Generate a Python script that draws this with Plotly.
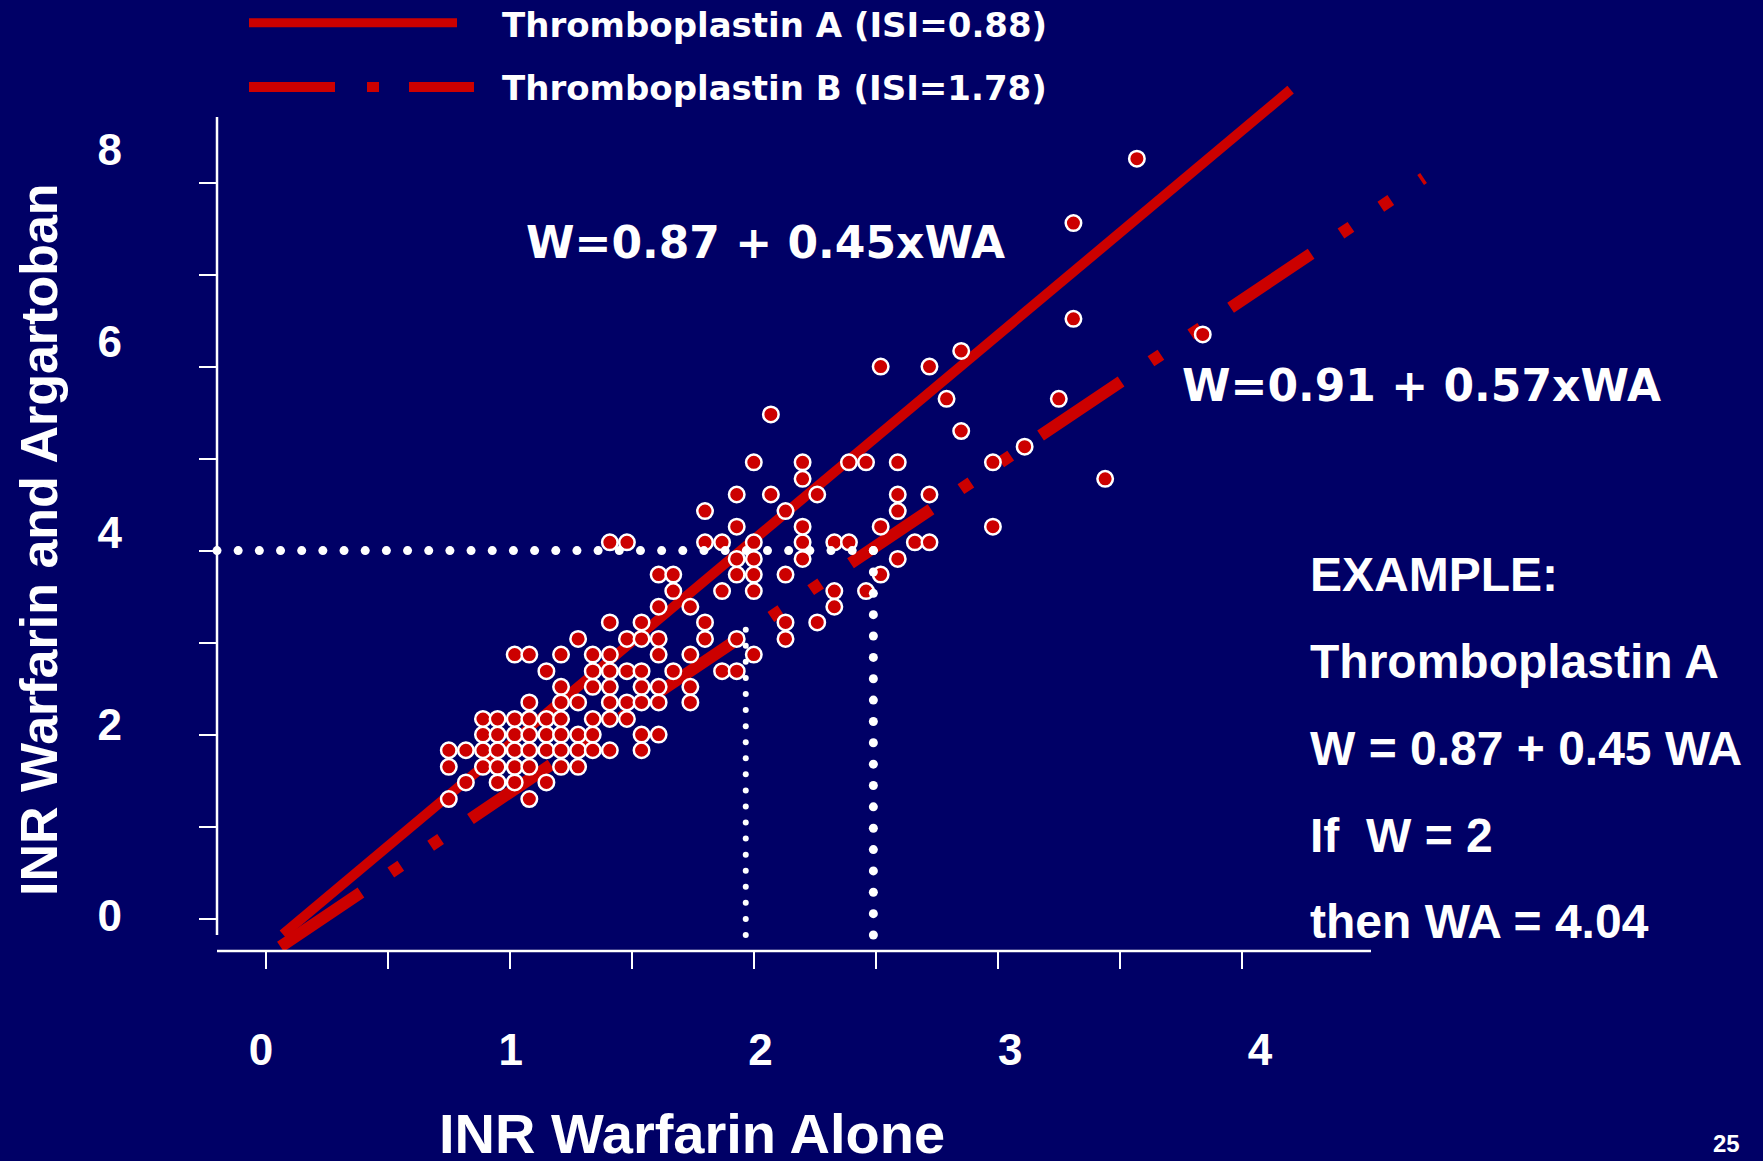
import numpy as np
import plotly.graph_objects as go

# ------------------------------------------------------------------ data
# INR with warfarin alone (x) and with warfarin + argatroban (y)
inr_warfarin_alone = [
    0.75, 1.08,
    0.82, 0.95, 1.02, 1.15,
    0.75, 0.89, 0.95, 1.02, 1.08, 1.21, 1.28,
    0.75, 0.82, 0.89, 0.95, 1.02, 1.08, 1.15, 1.21, 1.28, 1.34, 1.41, 1.54,
    0.89, 0.95, 1.02, 1.08, 1.15, 1.21, 1.28, 1.34, 1.54, 1.61,
    0.89, 0.95, 1.02, 1.08, 1.15, 1.21, 1.34, 1.41, 1.48,
    1.08, 1.21, 1.28, 1.41, 1.48, 1.54, 1.61, 1.74,
    1.21, 1.34, 1.41, 1.54, 1.61, 1.74,
    1.15, 1.34, 1.41, 1.48, 1.54, 1.67, 1.87, 1.93,
    1.02, 1.08, 1.21, 1.34, 1.41, 1.61, 1.74, 2.00,
    1.28, 1.48, 1.54, 1.61, 1.80, 1.93, 2.13,
    1.41, 1.54, 1.80, 2.13, 2.26,
    1.61, 1.74, 2.33,
    1.67, 1.87, 2.00, 2.33, 2.46,
    1.61, 1.67, 1.93, 2.00, 2.13, 2.52,
    1.93, 2.00, 2.20, 2.59,
    1.41, 1.48, 1.80, 1.87, 2.00, 2.20, 2.33, 2.39, 2.66, 2.72,
    1.93, 2.20, 2.52, 2.98,
    1.80, 2.13, 2.59,
    1.93, 2.07, 2.26, 2.59, 2.72,
    2.20, 3.44,
    2.00, 2.20, 2.39, 2.46, 2.59, 2.98,
    3.11,
    2.85,
    2.07,
    2.79, 3.25,
    2.52, 2.72,
    2.85,
    3.84,
    3.31,
    3.31,
    3.57,
]
inr_warfarin_argatroban = [
    1.30, 1.30,
    1.48, 1.48, 1.48, 1.48,
    1.65, 1.65, 1.65, 1.65, 1.65, 1.65, 1.65,
    1.83, 1.83, 1.83, 1.83, 1.83, 1.83, 1.83, 1.83, 1.83, 1.83, 1.83, 1.83,
    2.00, 2.00, 2.00, 2.00, 2.00, 2.00, 2.00, 2.00, 2.00, 2.00,
    2.17, 2.17, 2.17, 2.17, 2.17, 2.17, 2.17, 2.17, 2.17,
    2.35, 2.35, 2.35, 2.35, 2.35, 2.35, 2.35, 2.35,
    2.52, 2.52, 2.52, 2.52, 2.52, 2.52,
    2.69, 2.69, 2.69, 2.69, 2.69, 2.69, 2.69, 2.69,
    2.87, 2.87, 2.87, 2.87, 2.87, 2.87, 2.87, 2.87,
    3.04, 3.04, 3.04, 3.04, 3.04, 3.04, 3.04,
    3.22, 3.22, 3.22, 3.22, 3.22,
    3.39, 3.39, 3.39,
    3.56, 3.56, 3.56, 3.56, 3.56,
    3.74, 3.74, 3.74, 3.74, 3.74, 3.74,
    3.91, 3.91, 3.91, 3.91,
    4.09, 4.09, 4.09, 4.09, 4.09, 4.09, 4.09, 4.09, 4.09, 4.09,
    4.26, 4.26, 4.26, 4.26,
    4.43, 4.43, 4.43,
    4.61, 4.61, 4.61, 4.61, 4.61,
    4.78, 4.78,
    4.96, 4.96, 4.96, 4.96, 4.96, 4.96,
    5.13,
    5.30,
    5.48,
    5.65, 5.65,
    6.00, 6.00,
    6.17,
    6.35,
    6.52,
    7.56,
    8.26,
]
assert len(inr_warfarin_alone) == len(inr_warfarin_argatroban)

# regression lines (end points as drawn on the slide)
line_a_x = [0.07, 4.20]
line_a_y = [-0.17, 9.01]
line_b_x = [0.06, 4.745]
line_b_y = [-0.305, 8.05]

# axes
x_tick_vals = [0, 0.5, 1, 1.5, 2, 2.5, 3, 3.5, 4]
x_label_vals = [0, 1, 2, 3, 4]
x_label_text = ["0", "1", "2", "3", "4"]
y_tick_vals = [0, 1, 2, 3, 4, 5, 6, 7, 8]
y_label_vals = [0, 2, 4, 6, 8]
y_label_text = ["0", "2", "4", "6", "8"]

# worked example guides
example_wa = 4.0
example_w_a = 1.967
example_w_b = 2.49
example_bottom = -0.178
example_a_top = 3.14

legend_labels = ["Thromboplastin A (ISI=0.88)", "Thromboplastin B (ISI=1.78)"]
equation_a = "W=0.87 + 0.45xWA"
equation_b = "W=0.91 + 0.57xWA"
example_lines = ["EXAMPLE:", "Thromboplastin A", "W = 0.87 + 0.45 WA",
                 "If\u00a0 W = 2", "then WA = 4.04"]
x_title = "INR Warfarin Alone"
y_title = "INR Warfarin and Argartoban"
page_number = "25"

# ------------------------------------------------------------------ style / geometry
BG = "#000066"
RED = "#CC0000"
WHITE = "#FFFFFF"
ARIAL = "Arial, Liberation Sans, Helvetica, sans-serif"
VERDANA = "Verdana, DejaVu Sans, sans-serif"

W, H = 1763, 1161
ML, MR, MT, MB = 217, 326, 72, 210
PX_X, PX_Y = 244.0, 92.0
plot_w = W - ML - MR
plot_h = H - MT - MB
x_range = [-0.2, -0.2 + plot_w / PX_X]
y_range = [-0.352, -0.352 + plot_h / PX_Y]


def paper_x(px):
    return (px - ML) / plot_w


def paper_y(py):
    return (H - MB - py) / plot_h


# label axes (labels on the slide sit slightly off the tick marks)
def xl(px):
    return (px - 261.0) / 249.75


def yl(py):
    return (916.0 - py) / 95.75


x_label_range = [xl(ML), xl(W - MR)]
y_label_range = [yl(H - MB), yl(MT)]

# ------------------------------------------------------------------ traces
fig = go.Figure()

fig.add_trace(go.Scatter(x=line_a_x, y=line_a_y, mode="lines",
                         line=dict(color=RED, width=10), hoverinfo="skip"))
fig.add_trace(go.Scatter(x=line_b_x, y=line_b_y, mode="lines",
                         line=dict(color=RED, width=12,
                                   dash="97px,36px,12px,36px,12px,36px"),
                         hoverinfo="skip"))

fig.add_trace(go.Scatter(
    x=inr_warfarin_alone, y=inr_warfarin_argatroban, mode="markers",
    marker=dict(size=15.5, color=RED, line=dict(color=WHITE, width=2.5)),
))

# dotted guides of the worked example
hx = np.linspace(x_range[0], example_w_b, 32)
rv_y = np.linspace(example_wa, example_bottom, 19)
fig.add_trace(go.Scatter(
    x=list(hx) + [example_w_b] * len(rv_y),
    y=[example_wa] * len(hx) + list(rv_y),
    mode="markers", marker=dict(size=9, color=WHITE), hoverinfo="skip",
    cliponaxis=False))
lv_y = np.linspace(example_a_top, example_bottom, 20)
fig.add_trace(go.Scatter(
    x=[example_w_a] * len(lv_y), y=lv_y,
    mode="markers", marker=dict(size=6, color=WHITE), hoverinfo="skip"))

# empty trace to anchor the label axes
fig.add_trace(go.Scatter(x=[], y=[], xaxis="x2", yaxis="y3", hoverinfo="skip"))

# ------------------------------------------------------------------ layout
tick_font = dict(family=ARIAL, size=44, color=WHITE, weight="bold")

fig.update_layout(
    width=W, height=H, autosize=False,
    margin=dict(l=ML, r=MR, t=MT, b=MB, pad=0),
    paper_bgcolor=BG, plot_bgcolor=BG,
    showlegend=False,
    xaxis=dict(range=x_range, tickvals=x_tick_vals, ticks="outside", ticklen=17,
               tickwidth=2, tickcolor=WHITE, showticklabels=False,
               showgrid=False, zeroline=False, showline=False),
    yaxis=dict(range=y_range, tickvals=y_tick_vals, ticks="outside", ticklen=17,
               tickwidth=2, tickcolor=WHITE, showticklabels=False,
               showgrid=False, zeroline=False, showline=False),
    yaxis2=dict(range=y_range, overlaying="y", anchor="x", side="left",
                tickvals=y_tick_vals, ticks="inside", ticklen=17, tickwidth=2,
                tickcolor=WHITE, showticklabels=False, showgrid=False,
                zeroline=False, showline=False),
    xaxis2=dict(range=x_label_range, overlaying="x", anchor="y", side="bottom",
                tickvals=x_label_vals, ticktext=x_label_text, ticks="",
                tickfont=tick_font, ticklabelstandoff=69,
                showgrid=False, zeroline=False, showline=False),
    yaxis3=dict(range=y_label_range, overlaying="y", anchor="x", side="left",
                tickvals=y_label_vals, ticktext=y_label_text, ticks="",
                tickfont=tick_font, ticklabelstandoff=94,
                showgrid=False, zeroline=False, showline=False),
)

shapes = [
    # axis lines
    dict(type="line", xref="paper", yref="paper", x0=paper_x(217), x1=paper_x(1371),
         y0=paper_y(951), y1=paper_y(951), line=dict(color=WHITE, width=2.5)),
    dict(type="line", xref="paper", yref="paper", x0=paper_x(217), x1=paper_x(217),
         y0=paper_y(935), y1=paper_y(117), line=dict(color=WHITE, width=2.5)),
    # legend samples
    dict(type="line", xref="paper", yref="paper", x0=paper_x(249), x1=paper_x(457),
         y0=paper_y(22.7), y1=paper_y(22.7), line=dict(color=RED, width=9)),
    dict(type="line", xref="paper", yref="paper", x0=paper_x(249), x1=paper_x(474),
         y0=paper_y(87), y1=paper_y(87),
         line=dict(color=RED, width=10, dash="86px,32px,12px,30px")),
]
fig.update_layout(shapes=shapes)

ann = []
legend_font = dict(family=VERDANA, size=34, color=WHITE, weight="bold")
for label, py in zip(legend_labels, [25, 88.5]):
    ann.append(dict(text=label, xref="paper", yref="paper", x=paper_x(500),
                    y=paper_y(py), xanchor="left", yanchor="middle",
                    showarrow=False, font=legend_font))

eq_font = dict(family=VERDANA, size=44, color=WHITE, weight="bold")
ann.append(dict(text=equation_a, xref="paper", yref="paper", x=paper_x(524),
                y=paper_y(242.5), xanchor="left", yanchor="middle",
                showarrow=False, font=eq_font))
ann.append(dict(text=equation_b, xref="paper", yref="paper", x=paper_x(1180),
                y=paper_y(385.5), xanchor="left", yanchor="middle",
                showarrow=False, font=eq_font))

ex_font = dict(family=ARIAL, size=48, color=WHITE, weight="bold")
for line, py in zip(example_lines, [574, 661, 748.3, 835, 921.7]):
    ann.append(dict(text=line, xref="paper", yref="paper", x=paper_x(1308),
                    y=paper_y(py), xanchor="left", yanchor="middle",
                    showarrow=False, font=ex_font))

ann.append(dict(text=x_title, xref="paper", yref="paper", x=paper_x(692),
                y=paper_y(1133), xanchor="center", yanchor="middle",
                showarrow=False,
                font=dict(family=ARIAL, size=56, color=WHITE, weight="bold")))
ann.append(dict(text=y_title, xref="paper", yref="paper", x=paper_x(39),
                y=paper_y(540), xanchor="center", yanchor="middle",
                textangle=-90, showarrow=False,
                font=dict(family=ARIAL, size=52, color=WHITE, weight="bold")))
ann.append(dict(text=page_number, xref="paper", yref="paper", x=paper_x(1726),
                y=paper_y(1143), xanchor="center", yanchor="middle",
                showarrow=False,
                font=dict(family=ARIAL, size=24, color=WHITE, weight="bold")))
fig.update_layout(annotations=ann)

fig.write_html("out.html")
